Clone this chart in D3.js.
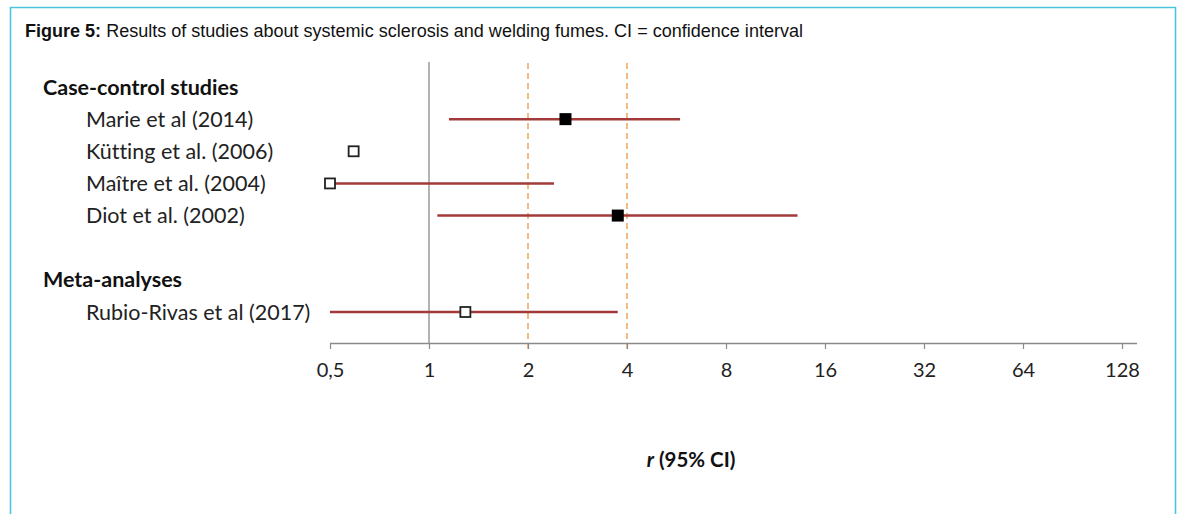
<!DOCTYPE html>
<html><head><meta charset="utf-8">
<script src="https://cdn.jsdelivr.net/npm/d3@7"></script>
<style>
html,body{margin:0;padding:0;background:#fff;}
svg{display:block;}
text{font-variant-ligatures:none;}
</style></head>
<body>
<svg id="c" width="1178" height="514"></svg>
<script>
// ---- data ----
const rowKeys = ["h1", "Marie", "Kutting", "Maitre", "Diot", "gap", "h2", "Rubio"];
const headers = ["Case-control studies", "Meta-analyses"];
const headerRows = ["h1", "h2"];
const studyRows = ["Marie", "Kutting", "Maitre", "Diot", "Rubio"];
const studies = ["Marie et al (2014)", "Kütting et al. (2006)", "Maître et al. (2004)", "Diot et al. (2002)", "Rubio-Rivas et al (2017)"];
const estimate = [2.6, 0.59, 0.5, 3.75, 1.29];
const lower = [1.15, null, 0.5, 1.06, 0.5];
const upper = [5.8, null, 2.4, 13.2, 3.75];
const significant = [true, false, false, true, false];
const tickValues = [0.5, 1, 2, 4, 8, 16, 32, 64, 128];
const tickLabels = ["0,5", "1", "2", "4", "8", "16", "32", "64", "128"];
const refLines = [2, 4];
const nullLine = 1;

const svg = d3.select("#c");
// frame
svg.append("path").attr("d","M10.5,514 L10.5,7.5 L1175.5,7.5 L1175.5,514")
  .attr("fill","none").attr("stroke","#4dc6dc").attr("stroke-width",1.6);

// title
const t = svg.append("text").attr("x",25).attr("y",37)
  .attr("font-family","'Liberation Sans',Arial,sans-serif").attr("font-size",17.5).attr("fill","#111")
  .attr("textLength",778).attr("lengthAdjust","spacingAndGlyphs");
t.append("tspan").attr("font-weight","bold").text("Figure 5:");
t.append("tspan").text(" Results of studies about systemic sclerosis and welding fumes. CI = confidence interval");

const x = d3.scaleLog().base(2).domain([0.5,128]).range([330,1122]);
const y = d3.scalePoint().domain(rowKeys).range([87,312]);
const axisY = 343;
const font = "Lato,'Open Sans',sans-serif";

// vertical lines
svg.append("line").attr("x1",x(nullLine)).attr("x2",x(nullLine)).attr("y1",62).attr("y2",axisY)
  .attr("stroke","#9a9a9a").attr("stroke-width",1.5);
svg.selectAll("line.ref").data(refLines).enter().append("line").attr("class","ref")
  .attr("x1",d=>x(d)).attr("x2",d=>x(d)).attr("y1",63).attr("y2",350)
  .attr("stroke","#f2a458").attr("stroke-width",1.5).attr("stroke-dasharray","6,4");

// axis
const axis = d3.axisBottom(x).tickValues(tickValues).tickFormat((d,i)=>tickLabels[i]).tickSizeOuter(0).tickSize(6).tickPadding(14);
const ag = svg.append("g").attr("transform",`translate(0,${axisY})`).call(axis);
ag.select(".domain").attr("d",`M${x(0.5)},0.5H1137`).attr("stroke","#8a8a8a").attr("stroke-width",1.5);
ag.selectAll(".tick line").attr("stroke","#8a8a8a").attr("stroke-width",1.2);
ag.selectAll(".tick text").attr("font-family",font).attr("font-size",20).attr("fill","#222");

// headers
svg.selectAll("text.hdr").data(headers).enter().append("text").attr("class","hdr")
  .attr("x",43).attr("y",(d,i)=>y(headerRows[i])).attr("dy","0.35em")
  .attr("font-family",font).attr("font-weight","bold").attr("font-size",21.5).attr("fill","#111").text(d=>d);
// study labels
svg.selectAll("text.lab").data(studies).enter().append("text").attr("class","lab")
  .attr("x",86).attr("y",(d,i)=>y(studyRows[i])).attr("dy","0.35em")
  .attr("font-family",font).attr("font-size",21.5).attr("fill","#222").text(d=>d);

// CI lines
const idx = d3.range(studies.length).filter(i=>lower[i]!=null);
svg.selectAll("line.ci").data(idx).enter().append("line").attr("class","ci")
  .attr("x1",i=>x(lower[i])).attr("x2",i=>x(upper[i]))
  .attr("y1",i=>y(studyRows[i])).attr("y2",i=>y(studyRows[i]))
  .attr("stroke","#a33a3a").attr("stroke-width",2.5);

// markers
svg.selectAll("rect.pt").data(d3.range(studies.length)).enter().append("rect").attr("class","pt")
  .attr("x",i=>x(estimate[i])-(significant[i]?6:5))
  .attr("y",i=>y(studyRows[i])-(significant[i]?6:5))
  .attr("width",i=>significant[i]?12:10).attr("height",i=>significant[i]?12:10)
  .attr("fill",i=>significant[i]?"#000":"#fff")
  .attr("stroke",i=>significant[i]?"none":"#222").attr("stroke-width",1.8);

// axis title
const at = svg.append("text").attr("x",691).attr("y",467).attr("text-anchor","middle")
  .attr("font-family",font).attr("font-weight","bold").attr("font-size",20.5).attr("fill","#111");
at.append("tspan").attr("font-style","italic").text("r");
at.append("tspan").text(" (95% CI)");
</script>
</body></html>
